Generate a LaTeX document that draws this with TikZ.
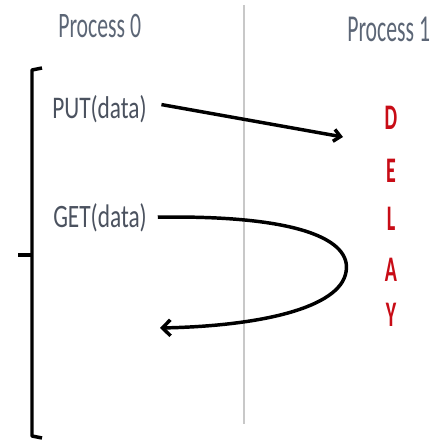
\documentclass[tikz,border=0pt]{standalone}
\usepackage{fontspec}
\setmainfont{Carlito}
\usepackage{graphicx}
\usetikzlibrary{arrows.meta, positioning}

\definecolor{labelgray}{RGB}{92,102,118}
\definecolor{callgray}{RGB}{75,82,95}
\definecolor{delayred}{RGB}{200,12,22}
\definecolor{rulegray}{RGB}{200,200,200}
\newcommand{\tall}[2]{\scalebox{1}[#1]{#2}}

\begin{document}
\begin{tikzpicture}[x=0.75pt, y=-0.75pt,
    proc/.style={inner sep=0pt, anchor=base west, text=labelgray, font=\fontsize{16.3}{16}\selectfont},
    call/.style={inner sep=0pt, anchor=base west, text=callgray, font=\fontsize{17.5}{17.5}\selectfont},
    delay/.style={inner sep=0pt, anchor=base, text=delayred, font=\bfseries\fontsize{15}{15}\selectfont},
    flow/.style={line width=2.6pt, -{Straight Barb[length=6pt, width=12pt]}}]
            \useasboundingbox (0,0) rectangle (433,442);

            \node[proc] (p-0) at (58,38) {\tall{1.65}{Process 0}};
            \node[proc] (p-1) at (347,42) {\tall{1.75}{Process 1}};

            % divider between the two processes
            \draw[rulegray, line width=1.5pt] (244,5) -- (244,424);

            % bracket on the left
            \draw[line width=2.6pt, line join=round] (42,68) -- (32,70) -- (32,436) -- (42,438);
            \draw[line width=2.6pt] (18,255) -- (32,255);

            \node[call] (put) at (52,118) {\tall{1.35}{PUT(data)}};
            \node[call] (get) at (53,227) {\tall{1.4}{GET(data)}};

            \node[delay] (d-1) at (391,130) {\tall{1.8}{D}};
            \node[delay] (d-2) at (391,182) {\tall{1.8}{E}};
            \node[delay] (d-3) at (391,230) {\tall{1.8}{L}};
            \node[delay] (d-4) at (391,281) {\tall{1.8}{A}};
            \node[delay] (d-5) at (391,326) {\tall{1.8}{Y}};

            \coordinate (put-end) at (343,137);
            \coordinate (get-turn) at (346,272);
            \coordinate (get-end) at (160,328);

            % Connections: calls to process 1
            \draw[flow, shorten <=11pt, -{Straight Barb[length=5pt, width=9pt]}] ([yshift=5pt]put.east) -- (put-end);
            \draw[flow, shorten <=8pt] (get.east) .. controls (300,215) and (352,240) .. (get-turn)
                .. controls (340,308) and (260,326) .. (get-end);

        \end{tikzpicture}
\end{document}
